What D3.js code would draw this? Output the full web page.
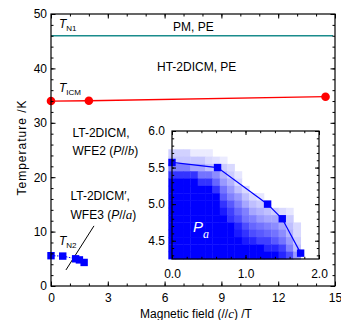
<!DOCTYPE html>
<html>
<head>
<meta charset="utf-8">
<script src="https://cdn.jsdelivr.net/npm/d3@7"></script>
<style>
  body { margin: 0; background: #fff; }
  svg { display: block; }
  text { font-family: "Liberation Sans", Arial, sans-serif; font-size: 12px; fill: #000; }
</style>
</head>
<body>
<svg id="chart" width="341" height="320"></svg>
<script>
// ---- data ----
const fieldTicks = [0, 3, 6, 9, 12, 15];
const tempTicks = [0, 10, 20, 30, 40, 50];
const insetFieldTicks = [0, 1, 2];
const insetTempTicks = [4.5, 5.0, 5.5, 6.0];

// T_N1 (PM -> HT-2DICM)
const tn1Field = [0, 14.9];
const tn1Temp = [46.0, 46.0];
// T_ICM
const ticmField = [0, 2.0, 14.5];
const ticmTemp = [34.0, 34.05, 34.8];
// T_N2
const tn2Field = [0, 0.62, 1.3, 1.5, 1.75];
const tn2Temp = [5.57, 5.5, 5.0, 4.8, 4.33];
// guide line between the two LT phases
const guideField = [0.79, 2.27];
const guideTemp = [2.95, 11.05];

// P_a map (inset): column = field, row = temperature, value = relative P_a
const mapFields = [0, 0.1, 0.2, 0.3, 0.4, 0.5, 0.6, 0.7, 0.8, 0.9, 1.0, 1.1, 1.2, 1.3, 1.4, 1.5, 1.6, 1.7, 1.8, 1.9];
const mapTemps = [5.7, 5.6, 5.5, 5.4, 5.3, 5.2, 5.1, 5.0, 4.9, 4.8, 4.7, 4.6, 4.5, 4.4, 4.3];
const mapValues = [
  [.18, .18, .18, .08, .08, .08, 0, 0, 0, 0, 0, 0, 0, 0, 0, 0, 0, 0, 0, 0],
  [.22, .22, .22, .22, .22, .15, .12, .08, 0, 0, 0, 0, 0, 0, 0, 0, 0, 0, 0, 0],
  [.5, .5, .5, .35, .35, .25, .25, .2, .15, 0, 0, 0, 0, 0, 0, 0, 0, 0, 0, 0],
  [.8, .8, .8, .8, .55, .55, .45, .3, .2, .1, 0, 0, 0, 0, 0, 0, 0, 0, 0, 0],
  [1, 1, 1, 1, .8, .8, .6, .4, .3, .15, 0, 0, 0, 0, 0, 0, 0, 0, 0, 0],
  [1, 1, 1, 1, 1, 1, .8, .55, .4, .25, .15, 0, 0, 0, 0, 0, 0, 0, 0, 0],
  [1, 1, 1, 1, 1, 1, 1, .65, .5, .4, .25, .15, .1, 0, 0, 0, 0, 0, 0, 0],
  [1, 1, 1, 1, 1, 1, 1, .8, .65, .5, .35, .25, .2, .15, 0, 0, 0, 0, 0, 0],
  [1, 1, 1, 1, 1, 1, 1, .9, .75, .6, .5, .35, .3, .25, .2, .15, .1, 0, 0, 0],
  [1, 1, 1, 1, 1, 1, 1, 1, .8, .7, .55, .5, .4, .35, .35, .3, .2, 0, 0, 0],
  [1, 1, 1, 1, 1, 1, 1, 1, 1, .85, .7, .6, .55, .5, .45, .35, .25, .15, 0, 0],
  [1, 1, 1, 1, 1, 1, 1, 1, 1, .9, .8, .7, .65, .6, .55, .45, .3, .15, 0, 0],
  [1, 1, 1, 1, 1, 1, 1, 1, 1, 1, .9, .85, .75, .75, .65, .55, .4, .2, 0, 0],
  [1, 1, 1, 1, 1, 1, 1, 1, 1, 1, 1, 1, 1, .85, .85, .75, .5, .25, 0, 0],
  [1, 1, 1, 1, 1, 1, 1, 1, 1, 1, 1, 1, 1, 1, 1, .85, .7, .4, 0, 0]
];

const SERIF = '"Liberation Serif", "DejaVu Serif", serif';
const svg = d3.select('#chart');

// 主图比例尺
const x = d3.scaleLinear().domain([0, 15]).range([51, 335]);
const y = d3.scaleLinear().domain([0, 50]).range([286, 14]);

// 画四边的内向刻度
function frameAxes(g, sx, sy, o) {
  const [xa, xb] = sx.range();
  const [ya, yb] = sy.range();
  const xMinor = d3.range(o.xMin[0], o.xMin[1] + 1e-9, o.xMin[2]);
  const yMinor = d3.range(o.yMin[0], o.yMin[1] + 1e-9, o.yMin[2]);
  const sets = [
    { axis: d3.axisBottom, s: sx, t: `translate(0,${ya})`, major: o.xMajor, minor: xMinor, pad: o.xPad, fmt: o.xFmt },
    { axis: d3.axisTop, s: sx, t: `translate(0,${yb})`, major: o.xMajor, minor: xMinor },
    { axis: d3.axisLeft, s: sy, t: `translate(${xa},0)`, major: o.yMajor, minor: yMinor, pad: o.yPad, fmt: o.yFmt },
    { axis: d3.axisRight, s: sy, t: `translate(${xb},0)`, major: o.yMajor, minor: yMinor }
  ];
  sets.forEach(a => {
    const gm = g.append('g').attr('transform', a.t)
      .call(a.axis(a.s).tickValues(a.major).tickSizeInner(-o.big).tickSizeOuter(0)
        .tickPadding(a.pad || 0).tickFormat(a.fmt || (() => '')));
    gm.select('.domain').remove();
    gm.selectAll('text').style('font-size', '12px').attr('fill', '#000');
    const gn = g.append('g').attr('transform', a.t)
      .call(a.axis(a.s).tickValues(a.minor).tickSizeInner(-o.small).tickSizeOuter(0).tickFormat(() => ''));
    gn.select('.domain').remove();
  });
  g.selectAll('.tick line').attr('stroke', '#000').attr('stroke-width', 1);
  g.append('rect')
    .attr('x', xa).attr('y', yb).attr('width', xb - xa).attr('height', ya - yb)
    .attr('fill', 'none').attr('stroke', '#000').attr('stroke-width', 1.2);
}

// 富文本：斜体、衬线、下标
function rich(g, px, py, parts, size) {
  const t = g.append('text').attr('x', px).attr('y', py);
  if (size) t.style('font-size', size + 'px');
  parts.forEach(p => {
    const s = t.append('tspan').text(p.t);
    if (p.it) s.attr('font-style', 'italic');
    if (p.serif) s.attr('font-family', SERIF);
    if (p.size) s.style('font-size', p.size + 'px');
    if (p.dy) s.attr('dy', p.dy);
    if (p.fill) s.attr('fill', p.fill);
  });
  return t;
}

const main = svg.append('g');

// T_N1 线
const line = d3.line().x(d => x(d[0])).y(d => y(d[1]));
main.append('path')
  .attr('d', line(d3.zip(tn1Field, tn1Temp)))
  .attr('fill', 'none').attr('stroke', '#1a8c8c').attr('stroke-width', 1.3);

// T_ICM 线和点
main.append('path')
  .attr('d', line(d3.zip(ticmField, ticmTemp)))
  .attr('fill', 'none').attr('stroke', '#f00').attr('stroke-width', 1.3);
main.selectAll('circle.icm').data(d3.zip(ticmField, ticmTemp)).enter()
  .append('circle').attr('class', 'icm')
  .attr('cx', d => x(d[0])).attr('cy', d => y(d[1])).attr('r', 4.3)
  .attr('fill', '#f00');

// 标签
rich(main, 59, 27.5, [{ t: 'T', it: 1 }, { t: 'N1', size: 8, dy: 3 }]);
rich(main, 173, 30.5, [{ t: 'PM, PE' }]);
rich(main, 157, 71, [{ t: 'HT-2DICM, PE' }]);
rich(main, 59, 92, [{ t: 'T', it: 1 }, { t: 'ICM', size: 8, dy: 3 }]);
rich(main, 72.5, 137, [{ t: 'LT-2DICM,' }]);
rich(main, 72.5, 155, [{ t: 'WFE2 (' }, { t: 'P', it: 1 }, { t: '//' }, { t: 'b', it: 1, serif: 1, size: 13 }, { t: ')' }]);
rich(main, 70.5, 199.5, [{ t: 'LT-2DICM′,' }]);
rich(main, 70.5, 219, [{ t: 'WFE3 (' }, { t: 'P', it: 1 }, { t: '//' }, { t: 'a', it: 1, serif: 1, size: 13 }, { t: ')' }]);
rich(main, 59, 244.5, [{ t: 'T', it: 1 }, { t: 'N2', size: 8, dy: 3 }]);

// 分界辅助线
main.append('path')
  .attr('d', line(d3.zip(guideField, guideTemp)))
  .attr('fill', 'none').attr('stroke', '#000').attr('stroke-width', 1);

// T_N2 方块 (主图)
main.append('path')
  .attr('d', line(d3.zip(tn2Field, tn2Temp)))
  .attr('fill', 'none').attr('stroke', '#00f').attr('stroke-width', 1)
  .attr('stroke-dasharray', '1.5,1.5');
main.selectAll('rect.n2').data(d3.zip(tn2Field, tn2Temp)).enter()
  .append('rect').attr('class', 'n2')
  .attr('x', d => x(d[0]) - 3.7).attr('y', d => y(d[1]) - 3.7)
  .attr('width', 7.4).attr('height', 7.4).attr('fill', '#00f');

frameAxes(main, x, y, {
  xMajor: fieldTicks, xMin: [0, 15, 1], yMajor: tempTicks, yMin: [0, 50, 2],
  big: 4.5, small: 2.5, xPad: 7, yPad: 4, xFmt: d3.format('d'), yFmt: d3.format('d')
});

// 轴标题
main.append('text').attr('x', 196).attr('y', 318).attr('text-anchor', 'middle')
  .call(t => {
    t.append('tspan').text('Magnetic field (//');
    t.append('tspan').text('c').attr('font-style', 'italic').attr('font-family', SERIF).style('font-size', '13px');
    t.append('tspan').text(') /T');
  });
main.append('text')
  .attr('transform', 'translate(25.5,148) rotate(-90)')
  .attr('text-anchor', 'middle')
  .attr('textLength', 95).attr('lengthAdjust', 'spacing')
  .text('Temperature /K');

// ---- 插图 ----
const ix = d3.scaleLinear().domain([0, 2]).range([172, 319]);
const iy = d3.scaleLinear().domain([4.25, 6.0]).range([259, 131]);
const inset = svg.append('g');
inset.append('rect')
  .attr('x', 172).attr('y', 131).attr('width', 147).attr('height', 128).attr('fill', '#fff');

const color = d3.interpolateRgb('#ffffff', '#0000ff');
const cells = [];
mapTemps.forEach((t, r) => mapFields.forEach((f, c) => {
  if (mapValues[r][c] > 0) cells.push({ f, t, v: mapValues[r][c] });
}));
const halfF = 0.05, halfT = 0.05;
inset.selectAll('rect.cell').data(cells).enter()
  .append('rect').attr('class', 'cell')
  .attr('x', d => ix(d.f - halfF)).attr('y', d => iy(d.t + halfT))
  .attr('width', d => ix(d.f + halfF) - ix(d.f - halfF) + 0.4)
  .attr('height', d => iy(d.t - halfT) - iy(d.t + halfT) + 0.4)
  .attr('fill', d => color(d.v));

const iline = d3.line().x(d => ix(d[0])).y(d => iy(d[1]));
inset.append('path')
  .attr('d', iline(d3.zip(tn2Field, tn2Temp)))
  .attr('fill', 'none').attr('stroke', '#00f').attr('stroke-width', 1.2);
inset.selectAll('rect.pt').data(d3.zip(tn2Field, tn2Temp)).enter()
  .append('rect').attr('class', 'pt')
  .attr('x', d => ix(d[0]) - 3.7).attr('y', d => iy(d[1]) - 3.7)
  .attr('width', 7.4).attr('height', 7.4).attr('fill', '#00f');

rich(inset, 193, 231.5, [{ t: 'P', it: 1, fill: '#fff' }, { t: 'a', it: 1, serif: 1, size: 12, dy: 6, fill: '#fff' }], 15);

frameAxes(inset, ix, iy, {
  xMajor: insetFieldTicks, xMin: [0, 2, 0.2], yMajor: insetTempTicks, yMin: [4.3, 6.0, 0.1],
  big: 4, small: 2.2, xPad: 10, yPad: 7, xFmt: d3.format('.1f'), yFmt: d3.format('.1f')
});
</script>
</body>
</html>
